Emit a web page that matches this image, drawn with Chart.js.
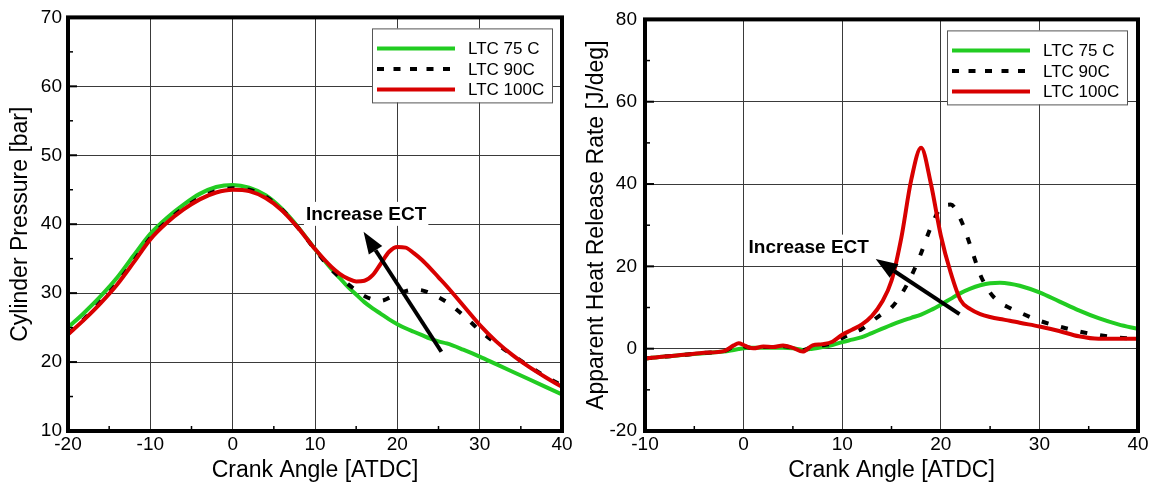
<!DOCTYPE html>
<html lang="en">

<head>
    <meta charset="UTF-8">
    <title>LTC coolant temperature sweep</title>
    <script src="https://cdn.jsdelivr.net/npm/chart.js@4.4.1/dist/chart.umd.min.js"></script>
    <style>
        body { margin: 0; background: #fff; }
        canvas { position: absolute; top: 0; }
        #pressureChart { left: 0; }
        #hrrChart { left: 580px; }
    </style>
</head>

<body>
    <canvas id="pressureChart" width="580" height="487"></canvas>
    <canvas id="hrrChart" width="579" height="487"></canvas>

    <script>
        // Series names (legend order)
        var seriesLabels = ["LTC 75 C", "LTC 90C", "LTC 100C"];

        // Cylinder pressure [bar] against crank angle
        var pressureAngle = [-20, -18, -16, -14, -12, -10, -8, -6, -4, -2, 0, 2, 4, 6, 8, 10, 12, 13, 14, 15, 16, 17, 18, 19, 20, 21, 22, 23, 24, 25, 26, 28, 30, 32, 34, 36, 38, 40];
        var pressure75 = [25.0, 27.2, 29.6, 32.3, 35.5, 38.6, 40.9, 42.8, 44.4, 45.4, 45.7, 45.3, 44.2, 42.2, 39.5, 36.4, 33.5, 32.2, 30.9, 29.8, 28.7, 27.8, 27.0, 26.2, 25.5, 24.9, 24.4, 23.9, 23.4, 23.0, 22.7, 21.8, 20.8, 19.7, 18.6, 17.5, 16.4, 15.3];
        var pressure90 = [24.1, 26.3, 28.8, 31.5, 34.7, 38.0, 40.4, 42.3, 43.8, 44.8, 45.2, 45.0, 44.0, 42.1, 39.4, 36.3, 33.4, 32.3, 31.3, 30.4, 29.6, 29.1, 28.9, 29.3, 29.9, 30.3, 30.5, 30.4, 30.0, 29.4, 28.7, 26.8, 24.6, 22.7, 21.0, 19.4, 17.9, 16.6];
        var pressure100 = [24.0, 26.2, 28.6, 31.3, 34.5, 37.8, 40.2, 42.1, 43.6, 44.6, 45.0, 44.8, 43.8, 42.0, 39.4, 36.4, 33.8, 32.8, 32.1, 31.7, 31.8, 32.6, 34.3, 36.0, 36.7, 36.6, 35.8, 34.8, 33.6, 32.3, 31.0, 28.2, 25.4, 23.0, 21.0, 19.3, 17.8, 16.4];

        // Apparent heat release rate [J/deg] against crank angle
        var hrrAngle = [-10, -8, -6, -4, -2, -1, -0.5, 0, 0.5, 1, 2, 3, 4, 5, 6, 7, 8, 9, 10, 11, 12, 13, 14, 15, 16, 17, 18, 19, 20, 21, 22, 23, 24, 25, 26, 27, 28, 30, 32, 34, 36, 38, 40];
        var hrr75 = [-2.4, -1.9, -1.5, -1.1, -0.7, -0.3, -0.1, 0.1, 0.2, 0.2, 0.2, 0.2, 0.2, 0.1, -0.3, 0.0, 0.4, 0.9, 1.6, 2.2, 2.8, 3.8, 4.8, 5.8, 6.7, 7.5, 8.3, 9.4, 10.7, 12.1, 13.5, 14.6, 15.4, 15.9, 16.0, 15.8, 15.3, 13.7, 11.5, 9.3, 7.4, 5.9, 4.8];
        var hrr90 = [-2.4, -1.9, -1.5, -1.0, -0.6, 0.5, 0.8, 0.6, 0.3, 0.2, 0.4, 0.4, 0.6, 0.2, -0.4, 0.5, 0.8, 1.3, 2.6, 3.8, 4.8, 6.6, 8.4, 10.0, 13.2, 17.6, 23.2, 29.6, 34.2, 35.0, 31.5, 25.0, 18.0, 13.6, 11.2, 9.9, 8.8, 6.8, 5.4, 4.2, 3.3, 2.7, 2.4];
        var hrr100 = [-2.4, -1.9, -1.5, -1.0, -0.6, 0.8, 1.3, 0.9, 0.3, 0.1, 0.5, 0.4, 0.8, 0.2, -0.7, 0.8, 1.1, 1.7, 3.4, 4.6, 5.9, 7.9, 11.2, 16.5, 27.0, 41.0, 48.8, 40.0, 27.5, 18.5, 11.8, 9.6, 8.4, 7.7, 7.2, 6.8, 6.3, 5.4, 4.3, 3.0, 2.4, 2.4, 2.4];

        // Axis ticks
        var pressureXTicks = [-20, -10, 0, 10, 20, 30, 40];
        var pressureYTicks = [10, 20, 30, 40, 50, 60, 70];
        var hrrXTicks = [-10, 0, 10, 20, 30, 40];
        var hrrYTicks = [-20, 0, 20, 40, 60, 80];

        var FONT = '"Liberation Sans", Arial, sans-serif';

        function toPoints(xs, ys) {
            return xs.map(function (x, i) { return { x: x, y: ys[i] }; });
        }

        function drawArrow(ctx, x0, y0, x1, y1) {
            var ang = Math.atan2(y1 - y0, x1 - x0);
            var len = 22, half = 8;
            var bx = x1 - len * Math.cos(ang), by = y1 - len * Math.sin(ang);
            ctx.strokeStyle = "#000";
            ctx.fillStyle = "#000";
            ctx.lineWidth = 4;
            ctx.beginPath();
            ctx.moveTo(x0, y0);
            ctx.lineTo(bx, by);
            ctx.stroke();
            ctx.beginPath();
            ctx.moveTo(x1, y1);
            ctx.lineTo(bx + half * Math.sin(ang), by - half * Math.cos(ang));
            ctx.lineTo(bx - half * Math.sin(ang), by + half * Math.cos(ang));
            ctx.closePath();
            ctx.fill();
        }

        // Frame, inward ticks, annotation arrow and the boxed legend
        var decorPlugin = {
            id: "decor",
            afterDatasetsDraw: function (chart, args, opts) {
                var ctx = chart.ctx, a = chart.chartArea;
                var xs = chart.scales.x, ys = chart.scales.y;
                ctx.save();

                // arrow + note
                drawArrow(ctx, xs.getPixelForValue(opts.arrow[0]), ys.getPixelForValue(opts.arrow[1]),
                    xs.getPixelForValue(opts.arrow[2]), ys.getPixelForValue(opts.arrow[3]));
                ctx.font = "bold 19px " + FONT;
                var tx = xs.getPixelForValue(opts.note[0]), ty = ys.getPixelForValue(opts.note[1]);
                var tw = ctx.measureText(opts.note[2]).width;
                ctx.fillStyle = "#fff";
                ctx.fillRect(tx - 2, ty - 12, tw + 4, 24);
                ctx.fillStyle = "#000";
                ctx.textBaseline = "middle";
                ctx.textAlign = "left";
                ctx.fillText(opts.note[2], tx, ty + 1);

                // ticks on left and bottom edges
                ctx.strokeStyle = "#000";
                opts.yTicks.forEach(function (v, i) {
                    var y = ys.getPixelForValue(v);
                    ctx.lineWidth = 2;
                    ctx.beginPath(); ctx.moveTo(a.left, y); ctx.lineTo(a.left + 9, y); ctx.stroke();
                    if (i < opts.yTicks.length - 1) {
                        var ym = ys.getPixelForValue((v + opts.yTicks[i + 1]) / 2);
                        ctx.lineWidth = 1.5;
                        ctx.beginPath(); ctx.moveTo(a.left, ym); ctx.lineTo(a.left + 5, ym); ctx.stroke();
                    }
                });
                opts.xTicks.forEach(function (v, i) {
                    if (i < opts.xTicks.length - 1) {
                        var xm = xs.getPixelForValue((v + opts.xTicks[i + 1]) / 2);
                        ctx.lineWidth = 1.5;
                        ctx.beginPath(); ctx.moveTo(xm, a.bottom); ctx.lineTo(xm, a.bottom - 5); ctx.stroke();
                    }
                });

                // heavy frame
                ctx.lineWidth = 4;
                ctx.strokeRect(a.left, a.top, a.right - a.left, a.bottom - a.top);

                // legend box
                var bw = 180, bh = 74;
                var bx = a.right - opts.legendInset - bw, by = a.top + 11;
                ctx.fillStyle = "#fff";
                ctx.fillRect(bx, by, bw, bh);
                ctx.lineWidth = 1;
                ctx.strokeStyle = "#555";
                ctx.strokeRect(bx + 0.5, by + 0.5, bw, bh);
                ctx.font = "17px " + FONT;
                chart.data.datasets.forEach(function (ds, i) {
                    var ly = by + 20 + i * 20.5;
                    ctx.strokeStyle = ds.borderColor;
                    ctx.lineWidth = 4;
                    ctx.setLineDash(ds.borderDash.length ? [7, 9.5] : []);
                    ctx.beginPath(); ctx.moveTo(bx + 5, ly); ctx.lineTo(bx + 83, ly); ctx.stroke();
                    ctx.setLineDash([]);
                    ctx.fillStyle = "#000";
                    ctx.fillText(ds.label, bx + 96, ly + 1);
                });
                ctx.restore();
            }
        };

        function lineSet(label, xs, ys, color, dash, order) {
            return {
                label: label,
                data: toPoints(xs, ys),
                borderColor: color,
                borderWidth: 4,
                borderDash: dash,
                pointRadius: 0,
                cubicInterpolationMode: "monotone",
                order: order
            };
        }

        function buildChart(id, cfg) {
            return new Chart(document.getElementById(id), {
                type: "line",
                data: {
                    datasets: [
                        lineSet(seriesLabels[0], cfg.x, cfg.y75, "#22cc22", [], 3),
                        lineSet(seriesLabels[1], cfg.x, cfg.y90, "#000000", [7, 13], 2),
                        lineSet(seriesLabels[2], cfg.x, cfg.y100, "#d80000", [], 1)
                    ]
                },
                options: {
                    responsive: false,
                    animation: false,
                    events: [],
                    layout: { padding: { top: 17, right: cfg.padRight, left: 0, bottom: 0 } },
                    plugins: {
                        legend: { display: false },
                        tooltip: { enabled: false },
                        decor: {
                            arrow: cfg.arrow,
                            note: cfg.note,
                            xTicks: cfg.xTicks,
                            yTicks: cfg.yTicks,
                            legendInset: cfg.legendInset
                        }
                    },
                    scales: {
                        x: {
                            type: "linear",
                            min: cfg.xTicks[0],
                            max: cfg.xTicks[cfg.xTicks.length - 1],
                            afterBuildTicks: function (s) { s.ticks = cfg.xTicks.map(function (v) { return { value: v }; }); },
                            afterFit: function (s) { s.height = 56; },
                            grid: { color: "#3a3a3a", lineWidth: 1, drawTicks: false },
                            border: { display: false },
                            ticks: { color: "#000", padding: 2, maxRotation: 0, font: { family: FONT, size: 19 } },
                            title: { display: true, text: "Crank Angle [ATDC]", color: "#000", padding: { top: 0, bottom: 3 }, font: { family: FONT, size: 23 } }
                        },
                        y: {
                            min: cfg.yTicks[0],
                            max: cfg.yTicks[cfg.yTicks.length - 1],
                            afterBuildTicks: function (s) { s.ticks = cfg.yTicks.map(function (v) { return { value: v }; }); },
                            afterFit: function (s) { s.width = cfg.yWidth; },
                            grid: { color: "#3a3a3a", lineWidth: 1, drawTicks: false },
                            border: { display: false },
                            ticks: { color: "#000", padding: cfg.yPad, font: { family: FONT, size: 19 } },
                            title: { display: true, text: cfg.yTitle, color: "#000", padding: { top: cfg.yTitlePad, bottom: 0 }, font: { family: FONT, size: 23 } }
                        }
                    }
                },
                plugins: [decorPlugin]
            });
        }

        buildChart("pressureChart", {
            x: pressureAngle, y75: pressure75, y90: pressure90, y100: pressure100,
            xTicks: pressureXTicks, yTicks: pressureYTicks,
            yTitle: "Cylinder Pressure [bar]",
            yWidth: 68, yPad: 6, yTitlePad: 7, padRight: 18, legendInset: 10,
            arrow: [25.35, 21.5, 15.9, 38.9],
            note: [8.9, 41.5, "Increase ECT"]
        });

        buildChart("hrrChart", {
            x: hrrAngle, y75: hrr75, y90: hrr90, y100: hrr100,
            xTicks: hrrXTicks, yTicks: hrrYTicks,
            yTitle: "Apparent Heat Release Rate [J/deg]",
            yWidth: 65, yPad: 8, yTitlePad: 3, padRight: 21, legendInset: 11,
            arrow: [21.9, 8.4, 13.4, 21.8],
            note: [0.5, 24.8, "Increase ECT"]
        });
    </script>
</body>

</html>
